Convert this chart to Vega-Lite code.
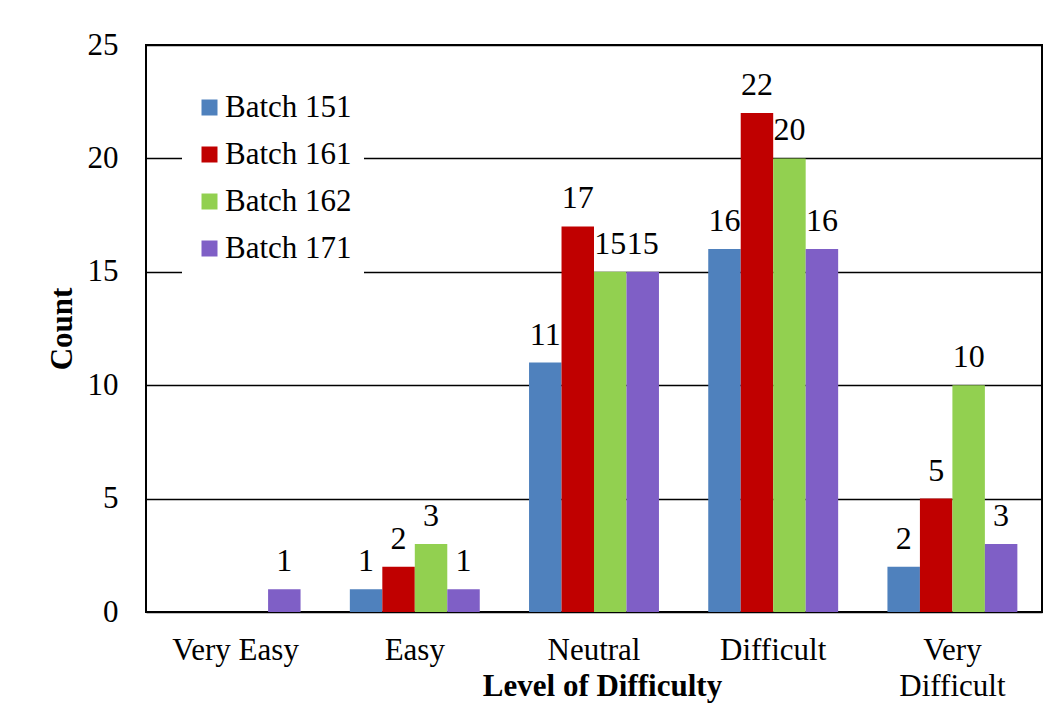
{
  "$schema": "https://vega.github.io/schema/vega-lite/v6.json",
  "width": 896,
  "height": 567,
  "autosize": {"type": "none"},
  "padding": {"left": 146, "top": 45, "right": 21, "bottom": 96},
  "background": "white",
  "config": {
    "font": "Liberation Serif",
    "view": {"stroke": "black", "strokeWidth": 2},
    "axis": {"labelFont": "Liberation Serif", "titleFont": "Liberation Serif", "labelColor": "black", "titleColor": "black"}
  },
  "data": {
    "values": [
      {"level": "Very Easy", "batch": "Batch 151", "count": 0},
      {"level": "Very Easy", "batch": "Batch 161", "count": 0},
      {"level": "Very Easy", "batch": "Batch 162", "count": 0},
      {"level": "Very Easy", "batch": "Batch 171", "count": 1},
      {"level": "Easy", "batch": "Batch 151", "count": 1},
      {"level": "Easy", "batch": "Batch 161", "count": 2},
      {"level": "Easy", "batch": "Batch 162", "count": 3},
      {"level": "Easy", "batch": "Batch 171", "count": 1},
      {"level": "Neutral", "batch": "Batch 151", "count": 11},
      {"level": "Neutral", "batch": "Batch 161", "count": 17},
      {"level": "Neutral", "batch": "Batch 162", "count": 15},
      {"level": "Neutral", "batch": "Batch 171", "count": 15},
      {"level": "Difficult", "batch": "Batch 151", "count": 16},
      {"level": "Difficult", "batch": "Batch 161", "count": 22},
      {"level": "Difficult", "batch": "Batch 162", "count": 20},
      {"level": "Difficult", "batch": "Batch 171", "count": 16},
      {"level": "Very Difficult", "batch": "Batch 151", "count": 2},
      {"level": "Very Difficult", "batch": "Batch 161", "count": 5},
      {"level": "Very Difficult", "batch": "Batch 162", "count": 10},
      {"level": "Very Difficult", "batch": "Batch 171", "count": 3}
    ]
  },
  "encoding": {
    "x": {
      "field": "level",
      "type": "nominal",
      "sort": ["Very Easy", "Easy", "Neutral", "Difficult", "Very Difficult"],
      "scale": {"paddingInner": 0.275, "paddingOuter": 0.1375},
      "axis": {
        "title": "Level of Difficulty",
        "titleFontSize": 31,
        "titleFontWeight": "bold",
        "titleY": 74,
        "titleX": 456,
        "titleBaseline": "middle",
        "labelFontSize": 31,
        "labelAngle": 0,
        "labelPadding": 23,
        "labelLineHeight": 36,
        "labelExpr": "datum.label == 'Very Difficult' ? ['Very', 'Difficult'] : datum.label",
        "ticks": false,
        "domain": false,
        "grid": false
      }
    },
    "xOffset": {
      "field": "batch",
      "type": "nominal",
      "sort": ["Batch 151", "Batch 161", "Batch 162", "Batch 171"],
      "scale": {"paddingInner": 0, "paddingOuter": 0}
    },
    "y": {
      "field": "count",
      "type": "quantitative",
      "scale": {"domain": [0, 25], "nice": false},
      "axis": {
        "title": "Count",
        "titleFontSize": 31,
        "titleFontWeight": "bold",
        "titleX": -84,
        "titleBaseline": "middle",
        "titleAlign": "center",
        "values": [0, 5, 10, 15, 20, 25],
        "labelFontSize": 31,
        "labelPadding": 28,
        "ticks": false,
        "domain": false,
        "grid": true,
        "gridColor": "black",
        "gridWidth": 1.5,
        "gridOpacity": 1
      }
    }
  },
  "layer": [
    {
      "mark": {"type": "bar"},
      "encoding": {
        "color": {
          "field": "batch",
          "type": "nominal",
          "sort": ["Batch 151", "Batch 161", "Batch 162", "Batch 171"],
          "scale": {
            "domain": ["Batch 151", "Batch 161", "Batch 162", "Batch 171"],
            "range": ["#4F81BD", "#C00000", "#92D050", "#7F5FC6"]
          },
          "legend": {
            "title": null,
            "orient": "none",
            "legendX": 36,
            "legendY": 35,
            "fillColor": "white",
            "padding": 12,
            "symbolType": "square",
            "symbolSize": 256,
            "symbolStrokeWidth": 0,
            "labelFont": "Liberation Serif",
            "labelFontSize": 31,
            "labelColor": "black",
            "labelOffset": 0,
            "rowPadding": 15
          }
        }
      }
    },
    {
      "transform": [{"filter": "datum.count > 0"}],
      "mark": {"type": "text", "baseline": "alphabetic", "dy": -18, "fontSize": 32, "font": "Liberation Serif", "color": "black"},
      "encoding": {
        "text": {"field": "count", "type": "quantitative"}
      }
    }
  ]
}
